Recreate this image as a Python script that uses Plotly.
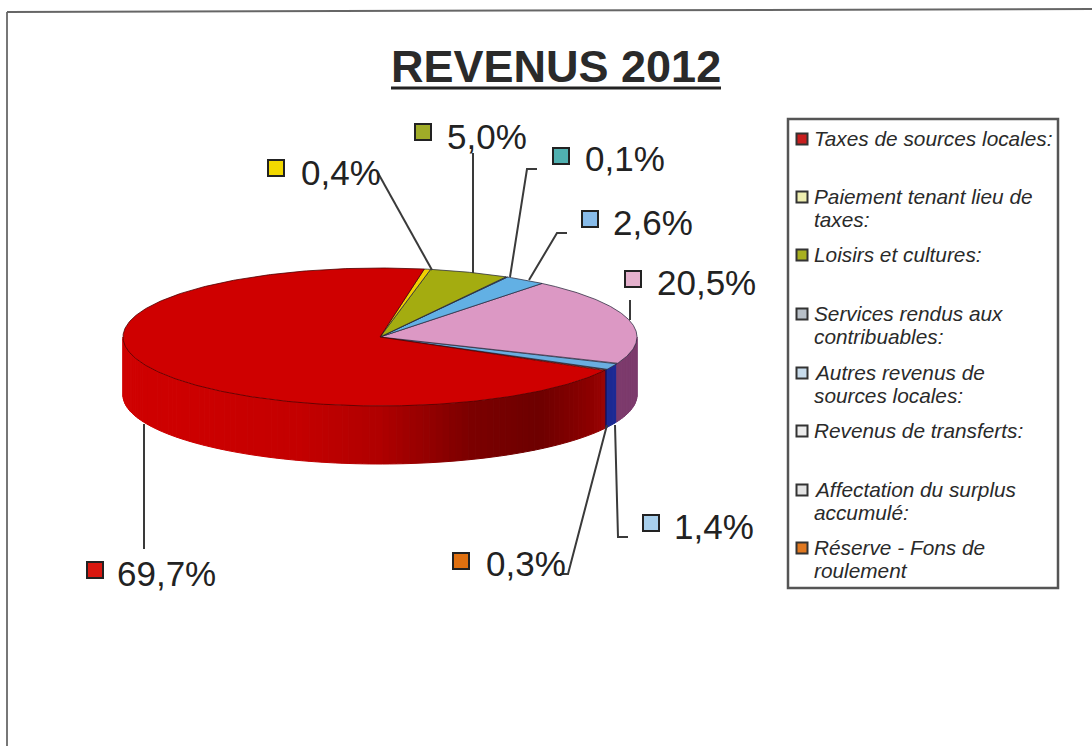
import numpy as np
import plotly.graph_objects as go

# ---- data ----
title = "REVENUS 2012"
categories = ["Taxes de sources locales:", "Paiement tenant lieu de<br>taxes:", "Loisirs et cultures:",
              "Services rendus aux<br>contribuables:", "Autres revenus de<br>sources locales:",
              "Revenus de transferts:", "Affectation du surplus<br>accumulé:", "Réserve - Fons de<br>roulement"]
legend_colors = ["#c81e1e", "#eeeeb0", "#a8b020", "#b8c0c8", "#c8dcec", "#ececec", "#e4e4e4", "#e07820"]

# slices, counter-clockwise from the red / orange boundary
slice_values = [0.3, 1.4, 20.5, 2.6, 0.1, 5.0, 0.4, 69.7]
slice_labels = ["0,3%", "1,4%", "20,5%", "2,6%", "0,1%", "5,0%", "0,4%", "69,7%"]
slice_top = ["#e07010", "#6aaee0", "#dc98c4", "#62b0e4", "#40a8a8", "#a4ac10", "#f0d000", "#cf0000"]
slice_wall = ["#101060", "#1c2a94", "#7c3a6c", "#1c4a80", "#104040", "#505400", "#706000", "#900000"]
swatch = ["#e07010", "#a8cfec", "#e4b0cc", "#88bcea", "#50b0b0", "#a0ac28", "#f2d800", "#d81810"]

# ---- geometry ----
CX, CY, RX, RY, DEPTH = 380.0, 337.0, 257.0, 69.0, 58.0
START_DEG = -29.0
label_marker = {"0,3%": (461, 561), "1,4%": (651, 523), "20,5%": (633, 279), "2,6%": (590, 219),
                "0,1%": (561, 156), "5,0%": (423, 132), "0,4%": (276, 168), "69,7%": (95, 570)}
label_text = {"0,3%": (484, 563), "1,4%": (672, 526), "20,5%": (655, 282), "2,6%": (611, 222),
              "0,1%": (583, 158), "5,0%": (445, 136), "0,4%": (299, 172), "69,7%": (115, 573)}
leaders = [
    [(144, 424), (144, 549)],
    [(607, 425), (568, 574), (560, 574)],
    [(615, 425), (618, 537), (628, 537)],
    [(630, 300), (630, 320)],
    [(567, 233), (557, 233), (529, 280)],
    [(537, 169), (527, 169), (510, 277)],
    [(473, 153), (473, 273)],
    [(378, 173), (432, 270)],
]
legend_y = [139, 197, 255, 314, 373, 431, 490, 548]
line_h = 23.5


def px(tdeg):
    t = np.radians(tdeg)
    return CX + RX * np.cos(t), CY - RY * np.sin(t)


def hex2rgb(h):
    return np.array([int(h[i:i + 2], 16) for i in (1, 3, 5)], float)


def red_wall(x):
    stops_x = [121, 200, 300, 380, 470, 540, 590, 610]
    stops_c = ["#d00000", "#cc0000", "#c40000", "#b00000", "#7c0000", "#6e0000", "#8c0000", "#a00808"]
    rgb = [np.interp(x, stops_x, [hex2rgb(c)[k] for c in stops_c]) for k in range(3)]
    return "rgb(%d,%d,%d)" % tuple(rgb)


fig = go.Figure()

# slice angular spans
spans = []
a = START_DEG
for v in slice_values:
    b = a + v / sum(slice_values) * 360.0
    spans.append((a, b))
    a = b

# side wall (only the front half of the ellipse, t in 180..360)
for (a, b), wc, lab in zip(spans, slice_wall, slice_labels):
    for shift in (0, 360, -360):
        lo, hi = max(a + shift, 180), min(b + shift, 360)
        if lo >= hi:
            continue
        n = max(1, int((hi - lo) / 1.5))
        edges = np.linspace(lo, hi, n + 1)
        for t0, t1 in zip(edges[:-1], edges[1:]):
            x0, y0 = px(t0)
            x1, y1 = px(t1)
            col = red_wall((x0 + x1) / 2) if lab == "69,7%" else wc
            fig.add_trace(go.Scatter(x=[x0, x1, x1, x0, x0], y=[y0, y1, y1 + DEPTH, y0 + DEPTH, y0],
                                     mode="lines", fill="toself", fillcolor=col,
                                     line=dict(color=col, width=1), hoverinfo="skip", showlegend=False))

# top faces
for (a, b), col, lab in zip(spans, slice_top, slice_labels):
    ts = np.linspace(a, b, max(3, int((b - a) * 2)))
    xs, ys = px(ts)
    edge = "rgba(80,0,0,0.8)" if lab == "69,7%" else "rgba(40,40,60,0.75)"
    fig.add_trace(go.Scatter(x=[CX, *xs, CX], y=[CY, *ys, CY], mode="lines", fill="toself",
                             fillcolor=col, line=dict(color=edge, width=1),
                             hoverinfo="skip", showlegend=False))

# leader lines
for pts in leaders:
    fig.add_trace(go.Scatter(x=[p[0] for p in pts], y=[p[1] for p in pts], mode="lines",
                             line=dict(color="#3a3a3a", width=2), hoverinfo="skip", showlegend=False))

# data label swatches and text
fig.add_trace(go.Scatter(x=[label_marker[l][0] for l in slice_labels],
                         y=[label_marker[l][1] for l in slice_labels], mode="markers",
                         marker=dict(symbol="square", size=16, color=swatch, line=dict(color="#222", width=2)),
                         hoverinfo="skip", showlegend=False))
annotations = []
for l in slice_labels:
    annotations.append(dict(x=label_text[l][0], y=label_text[l][1], text=l, showarrow=False, xanchor="left",
                            yanchor="middle", font=dict(family="Liberation Sans", size=35, color="#222")))

# legend (hand-spaced to keep the wrapped rows of the reference)
fig.add_trace(go.Scatter(x=[802] * len(categories), y=legend_y, mode="markers",
                         marker=dict(symbol="square", size=11, color=legend_colors, line=dict(color="#333", width=2)),
                         hoverinfo="skip", showlegend=False))
for name, y in zip(categories, legend_y):
    for i, row in enumerate(name.split("<br>")):
        annotations.append(dict(x=812, y=y - 1 + i * line_h, text="<i>%s</i>" % row, showarrow=False,
                                xanchor="left", yanchor="middle", align="left",
                                font=dict(family="Liberation Sans", size=20.8, color="#2a2a2a")))

annotations.append(dict(x=555.5, y=66, text="<b>%s</b>" % title, showarrow=False, xanchor="center", yanchor="middle",
                        font=dict(family="Liberation Sans", size=45, color="#2a2a2a")))

shapes = [
    dict(type="line", x0=391, x1=721, y0=88, y1=88, line=dict(color="#222", width=3), layer="above"),
    dict(type="rect", x0=788, x1=1058, y0=119, y1=588, line=dict(color="#555", width=2.5), layer="below"),
    dict(type="line", x0=7, x1=7, y0=12, y1=746, line=dict(color="#777", width=2), layer="below"),
    dict(type="line", x0=7, x1=1092, y0=12, y1=9, line=dict(color="#666", width=2), layer="below"),
]

fig.update_layout(
    width=1092, height=746, margin=dict(l=0, r=0, t=0, b=0),
    paper_bgcolor="white", plot_bgcolor="white", showlegend=False,
    xaxis=dict(range=[0, 1092], visible=False, fixedrange=True),
    yaxis=dict(range=[746, 0], visible=False, fixedrange=True),
    annotations=annotations, shapes=shapes,
)
fig.write_html("out.html", config={"displayModeBar": False},
               post_script="document.body.style.margin='0';document.documentElement.style.overflow='hidden';")
